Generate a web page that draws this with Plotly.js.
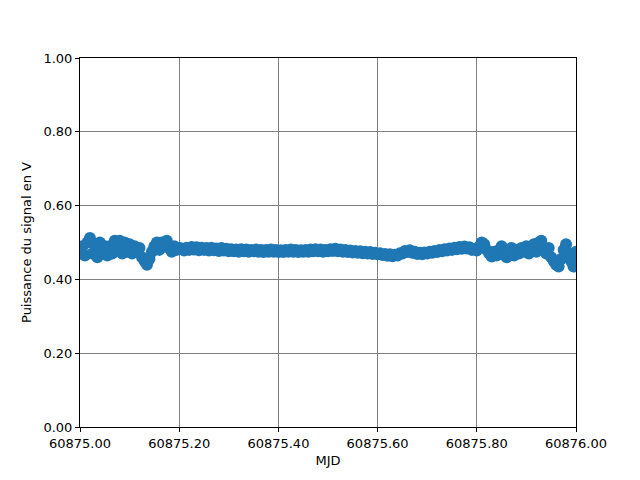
<!DOCTYPE html>
<html>
<head>
<meta charset="utf-8">
<script src="https://cdn.plot.ly/plotly-3.0.1.min.js"></script>
<style>html,body{margin:0;padding:0;background:#fff;}#chart{width:640px;height:480px;}</style>
</head>
<body>
<div id="chart"></div>
<script>
const mjdStart = 60875.0;
const mjdStep = 0.005;
const power = [
0.470,0.490,0.465,0.500,0.512,0.470,0.495,0.460,0.500,0.475,
0.490,0.465,0.490,0.470,0.505,0.480,0.505,0.470,0.500,0.475,
0.495,0.470,0.490,0.475,0.485,0.460,0.450,0.440,0.455,0.475,
0.490,0.500,0.480,0.500,0.490,0.505,0.485,0.475,0.490,0.480,
0.485,
0.484,0.478,0.486,0.480,0.488,0.481,0.487,0.479,0.486,0.480,
0.485,0.478,0.486,0.479,0.484,0.477,0.485,0.478,0.483,0.476,
0.482,0.476,0.481,0.475,0.482,0.476,0.481,0.475,0.480,0.476,
0.481,0.475,0.480,0.474,0.480,0.475,0.481,0.475,0.480,0.474,
0.479,0.474,0.480,0.475,0.481,0.475,0.480,0.474,0.479,0.475,
0.480,0.475,0.481,0.476,0.482,0.476,0.481,0.475,0.480,0.476,
0.482,0.477,0.483,0.476,0.481,0.475,0.480,0.474,0.478,0.473,
0.477,0.472,0.476,0.471,0.475,0.470,0.474,0.469,0.472,0.468,
0.471,0.466,0.469,0.464,0.468,0.463,0.467,0.465,0.471,0.470,
0.477,0.474,0.479,0.472,0.475,0.469,0.472,0.468,0.473,0.470,
0.475,0.472,0.477,0.474,0.480,0.476,0.482,0.478,0.484,0.480,
0.486,0.482,0.488,0.483,0.489,0.484,0.487,0.480,0.482,0.478,
0.490,0.500,0.495,0.480,0.470,0.462,0.475,0.465,0.480,0.490,
0.470,0.460,0.475,0.485,0.465,0.480,0.470,0.485,0.475,0.490,
0.470,0.485,0.495,0.475,0.500,0.505,0.480,0.470,0.485,0.460,
0.450,0.440,0.435,0.455,0.480,0.495,0.470,0.450,0.435,0.475
];
const xTickVals = [60875.0, 60875.2, 60875.4, 60875.6, 60875.8, 60876.0];
const yTickVals = [0, 0.2, 0.4, 0.6, 0.8, 1.0];

const mjd = power.map((_, i) => mjdStart + i * mjdStep);

const font = {family: 'DejaVu Sans, sans-serif', size: 13, color: '#000'};
const axisCommon = {
  showline: true, mirror: true, linecolor: '#000', linewidth: 1,
  ticks: 'outside', ticklen: 4, tickcolor: '#000', tickwidth: 1,
  showgrid: true, gridcolor: '#808080', gridwidth: 1,
  zeroline: false, tickfont: font, tickformat: '.2f'
};

Plotly.newPlot('chart', [{
  x: mjd, y: power, type: 'scatter', mode: 'markers',
  marker: {color: '#1f77b4', size: 12, line: {width: 0}},
  cliponaxis: true, hoverinfo: 'x+y'
}], {
  width: 640, height: 480,
  margin: {l: 80, r: 64, t: 58, b: 53},
  paper_bgcolor: '#fff', plot_bgcolor: '#fff',
  showlegend: false,
  font: font,
  xaxis: Object.assign({}, axisCommon, {
    range: [60875.0, 60876.0], tickvals: xTickVals,
    title: {text: 'MJD', font: font, standoff: 6}
  }),
  yaxis: Object.assign({}, axisCommon, {
    range: [0, 1], tickvals: yTickVals,
    title: {text: 'Puissance du signal en V', font: font, standoff: 8}
  })
}, {staticPlot: true, displayModeBar: false});
</script>
</body>
</html>
